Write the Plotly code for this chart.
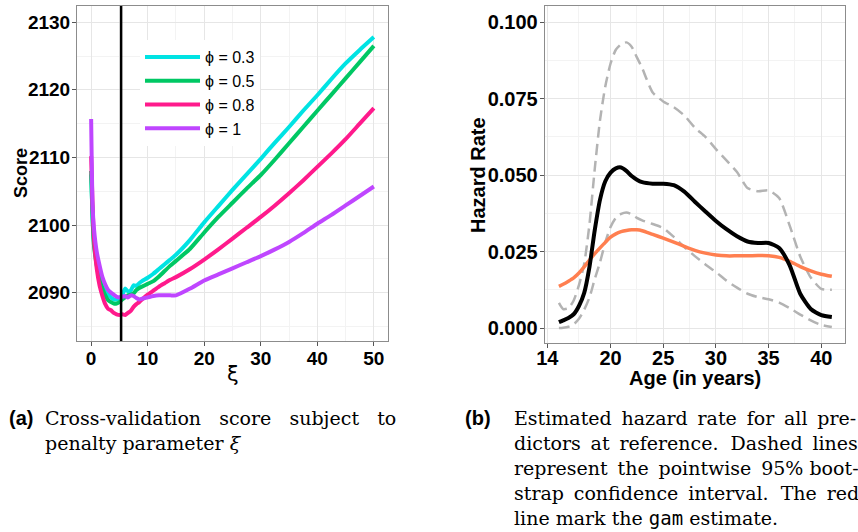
import plotly.graph_objects as go

# ---------------- Panel (a): cross-validation score vs xi ----------------
xi = [0, 0.25, 0.5, 1, 1.5, 2, 2.5, 3, 3.5, 4, 4.5, 5, 5.5, 6, 6.5, 7, 7.5, 8, 8.5, 9,
      10, 11, 12, 13, 14, 15, 17.5, 20, 22.5, 25, 27.5, 30, 32.5, 35, 37.5, 40, 42.5, 45, 47.5, 50]

score_phi03 = [2107.5, 2101.0, 2097.5, 2094.5, 2092.5, 2091.3, 2090.5, 2089.8, 2089.3, 2089.0,
               2089.0, 2089.2, 2089.6, 2090.6, 2090.2, 2090.3, 2091.1, 2091.0, 2091.4, 2091.7,
               2092.2, 2092.8, 2093.5, 2094.2, 2094.9, 2095.6, 2097.8, 2100.4, 2102.8, 2105.2,
               2107.5, 2109.8, 2112.2, 2114.5, 2116.9, 2119.2, 2121.6, 2123.9, 2125.9, 2127.8]
score_phi05 = [2108.0, 2101.0, 2097.0, 2094.0, 2092.0, 2090.6, 2089.6, 2088.9, 2088.6, 2088.4,
               2088.4, 2088.6, 2089.0, 2089.3, 2089.6, 2089.7, 2089.9, 2090.4, 2090.7, 2090.9,
               2091.3, 2091.7, 2092.4, 2093.2, 2094.0, 2094.7, 2096.5, 2098.9, 2101.2, 2103.3,
               2105.4, 2107.4, 2109.7, 2112.1, 2114.5, 2116.9, 2119.3, 2121.7, 2124.1, 2126.5]
score_phi08 = [2110.2, 2103.0, 2098.0, 2093.5, 2091.0, 2089.5, 2088.3, 2087.6, 2087.4, 2087.0,
               2086.8, 2086.7, 2086.8, 2086.7, 2087.0, 2087.3, 2087.9, 2088.3, 2088.6, 2089.0,
               2089.7, 2090.3, 2090.9, 2091.4, 2091.9, 2092.3, 2093.5, 2094.9, 2096.4, 2098.0,
               2099.6, 2101.2, 2102.9, 2104.7, 2106.6, 2108.6, 2110.6, 2112.7, 2115.0, 2117.3]
score_phi1 = [2115.7, 2103.0, 2099.5, 2096.0, 2094.0, 2092.3, 2091.2, 2090.4, 2090.0, 2089.7,
              2089.4, 2089.3, 2089.4, 2089.5, 2089.3, 2089.6, 2089.5, 2089.2, 2089.0, 2089.1,
              2089.3, 2089.5, 2089.6, 2089.6, 2089.6, 2089.6, 2090.6, 2091.8, 2092.7, 2093.6,
              2094.5, 2095.4, 2096.4, 2097.5, 2098.8, 2100.2, 2101.5, 2102.9, 2104.3, 2105.7]

phi_labels = ["ϕ = 0.3", "ϕ = 0.5", "ϕ = 0.8", "ϕ = 1"]
phi_colors = ["#00E3E3", "#00C864", "#FF1A8C", "#BF46FF"]
xi_selected = 5.3

xi_ticks = [0, 10, 20, 30, 40, 50]
score_ticks = [2090, 2100, 2110, 2120, 2130]

# ---------------- Panel (b): hazard rate vs age ----------------
age = [15.1, 15.5, 16, 16.5, 17, 17.5, 18, 18.5, 19, 19.5, 20, 20.5, 21, 21.5, 22, 22.5, 23,
       24, 25, 26, 27, 28, 29, 30, 31, 32, 33, 34, 35, 36, 37, 38, 39, 40, 41]

hazard_est = [0.0019, 0.0025, 0.0033, 0.0045, 0.0072, 0.0115, 0.0200, 0.0320, 0.0420, 0.0480,
              0.0508, 0.0522, 0.0525, 0.0514, 0.0497, 0.0485, 0.0477, 0.0472, 0.0472, 0.0467,
              0.0446, 0.0413, 0.0381, 0.0350, 0.0323, 0.0300, 0.0283, 0.0278, 0.0278, 0.0262,
              0.0205, 0.0112, 0.0062, 0.0042, 0.0036]
hazard_gam = [0.0136, 0.0143, 0.0153, 0.0164, 0.0180, 0.0200, 0.0222, 0.0243, 0.0262, 0.0280,
              0.0297, 0.0308, 0.0315, 0.0319, 0.0321, 0.0321, 0.0318, 0.0306, 0.0294, 0.0281,
              0.0267, 0.0254, 0.0245, 0.0239, 0.0236, 0.0236, 0.0236, 0.0237, 0.0236, 0.0231,
              0.0218, 0.0201, 0.0187, 0.0176, 0.0169]
hazard_upper = [0.0082, 0.0062, 0.0065, 0.0090, 0.0140, 0.0210, 0.0340, 0.0520, 0.0680, 0.0790,
                0.0865, 0.0910, 0.0928, 0.0934, 0.0920, 0.0885, 0.0850, 0.0770, 0.0741, 0.0722,
                0.0695, 0.0655, 0.0625, 0.0585, 0.0548, 0.0510, 0.0458, 0.0447, 0.0450, 0.0425,
                0.0335, 0.0234, 0.0165, 0.0128, 0.0125]
hazard_lower = [0.0000, 0.0001, 0.0004, 0.0012, 0.0030, 0.0060, 0.0100, 0.0160, 0.0215, 0.0280,
                0.0330, 0.0360, 0.0373, 0.0378, 0.0372, 0.0360, 0.0352, 0.0340, 0.0327, 0.0298,
                0.0265, 0.0235, 0.0208, 0.0183, 0.0155, 0.0132, 0.0112, 0.0101, 0.0094, 0.0083,
                0.0065, 0.0044, 0.0025, 0.0010, 0.0003]

age_ticks = [14, 20, 25, 30, 35, 40]
hazard_ticks = [0.0, 0.025, 0.05, 0.075, 0.1]

# ---------------- Captions ----------------
T = "\u2009"
caption_a = ["Cross-validation   score   subject   to",
             "penalty parameter <i>ξ</i>"]
caption_b = ["Estimated " + T + "hazard " + T + "rate " + T + "for " + T + "all " + T + "pre-",
             "dictors " + T + "at " + T + "reference.  Dashed " + T + "lines",
             "represent " + T + "the " + T + "pointwise " + T + "95% boot-",
             "strap " + T + "confidence " + T + "interval.  The " + T + "red",
             "line mark the <span style=\"font-family:'DejaVu Sans Mono'\">gam</span> estimate."]

W, H = 858, 532
SANS = "Liberation Sans, Arial, sans-serif"
SERIF = "DejaVu Serif, serif"

fig = go.Figure()

for vals, name, col in zip([score_phi03, score_phi05, score_phi08, score_phi1], phi_labels, phi_colors):
    fig.add_trace(go.Scatter(x=xi, y=vals, mode="lines", name=name,
                             line=dict(color=col, width=4, shape="spline", smoothing=0.5),
                             xaxis="x", yaxis="y"))

fig.add_trace(go.Scatter(x=age, y=hazard_upper, mode="lines", showlegend=False,
                         line=dict(color="#B3B3B3", width=2.5, dash="11px,6px", shape="spline", smoothing=0.6),
                         xaxis="x2", yaxis="y2"))
fig.add_trace(go.Scatter(x=age, y=hazard_lower, mode="lines", showlegend=False,
                         line=dict(color="#B3B3B3", width=2.5, dash="11px,6px", shape="spline", smoothing=0.6),
                         xaxis="x2", yaxis="y2"))
fig.add_trace(go.Scatter(x=age, y=hazard_gam, mode="lines", showlegend=False,
                         line=dict(color="#FF7F50", width=3.5, shape="spline", smoothing=0.6),
                         xaxis="x2", yaxis="y2"))
fig.add_trace(go.Scatter(x=age, y=hazard_est, mode="lines", showlegend=False,
                         line=dict(color="black", width=4, shape="spline", smoothing=0.6),
                         xaxis="x2", yaxis="y2"))

fig.add_shape(type="line", xref="x", yref="y domain", x0=xi_selected, x1=xi_selected, y0=0, y1=1,
              line=dict(color="black", width=2.5))

common_axis = dict(showline=True, mirror=True, linecolor="#8C8C8C", linewidth=1,
                   ticks="outside", ticklen=4, tickcolor="#555555", tickwidth=1,
                   showgrid=True, gridcolor="#E6E6E6", gridwidth=1, zeroline=False,
                   automargin=False)

fig.update_layout(
    width=W, height=H,
    margin=dict(l=0, r=0, t=0, b=0),
    paper_bgcolor="white", plot_bgcolor="white",
    xaxis=dict(domain=[77 / W, 388 / W], range=[-2.5, 52.5], tickvals=xi_ticks,
               tickfont=dict(family=SANS, size=19, color="black", weight="bold"),
               ticklabelstandoff=-4,
               minor=dict(tickvals=[5, 15, 25, 35, 45], showgrid=True, gridcolor="#F3F3F3", ticks=""),
               anchor="y", **common_axis),
    yaxis=dict(domain=[1 - 341 / H, 1 - 6 / H], range=[2082.85, 2132.4], tickvals=score_ticks,
               tickfont=dict(family=SANS, size=19, color="black", weight="bold"),
               ticklabelstandoff=-2,
               minor=dict(tickvals=[2085, 2095, 2105, 2115, 2125], showgrid=True, gridcolor="#F3F3F3", ticks=""),
               anchor="x", **common_axis),
    xaxis2=dict(domain=[544.7 / W, 845 / W], range=[13.75, 42.25], tickvals=age_ticks,
                tickfont=dict(family=SANS, size=20, color="black", weight="bold"),
                ticklabelstandoff=-7,
                minor=dict(tickvals=[17, 22.5, 27.5, 32.5, 37.5], showgrid=True, gridcolor="#F3F3F3", ticks=""),
                anchor="y2", **common_axis),
    yaxis2=dict(domain=[1 - 343 / H, 1 - 6 / H], range=[-0.0049, 0.1053], tickvals=hazard_ticks,
                tickformat=".3f",
                tickfont=dict(family=SANS, size=20, color="black", weight="bold"),
                ticklabelstandoff=-2,
                minor=dict(tickvals=[0.0125, 0.0375, 0.0625, 0.0875], showgrid=True, gridcolor="#F3F3F3", ticks=""),
                anchor="x2", **common_axis),
    legend=dict(x=140 / W, y=1 - 40 / H, xanchor="left", yanchor="top",
                bgcolor="white", borderwidth=0, tracegroupgap=0,
                font=dict(family=SANS, size=16, color="black"), itemwidth=55),
    showlegend=True,
)

# Axis titles
def axis_title(text, px, py, size, bold=True, family=SANS, angle=0):
    fig.add_annotation(x=px / W, y=1 - py / H, xref="paper", yref="paper", xanchor="center",
                       yanchor="middle", text=text, showarrow=False, textangle=angle,
                       font=dict(family=family, size=size, color="black", weight="bold" if bold else "normal"))

axis_title("ξ", 233, 374, 21, bold=False, family="DejaVu Sans")
axis_title("Score", 21, 173, 18, angle=-90)
axis_title("Age (in years)", 695, 378, 20)
axis_title("Hazard Rate", 478, 175, 20, angle=-90)

# Captions
cap_y = [418, 443, 468, 493, 518]
fig.add_annotation(x=7 / W, y=1 - cap_y[0] / H, xref="paper", yref="paper", xanchor="left", yanchor="middle",
                   text="<b>(a)</b>", showarrow=False, font=dict(family=SANS, size=20, color="black"))
for i, line in enumerate(caption_a):
    fig.add_annotation(x=43 / W, y=1 - cap_y[i] / H, xref="paper", yref="paper", xanchor="left",
                       yanchor="middle", text=line, showarrow=False,
                       font=dict(family=SERIF, size=19, color="black"))
fig.add_annotation(x=463 / W, y=1 - cap_y[0] / H, xref="paper", yref="paper", xanchor="left", yanchor="middle",
                   text="<b>(b)</b>", showarrow=False, font=dict(family=SANS, size=20, color="black"))
for i, line in enumerate(caption_b):
    fig.add_annotation(x=512 / W, y=1 - cap_y[i] / H, xref="paper", yref="paper", xanchor="left",
                       yanchor="middle", text=line, showarrow=False,
                       font=dict(family=SERIF, size=19, color="black"))

fig.write_html("out.html")
